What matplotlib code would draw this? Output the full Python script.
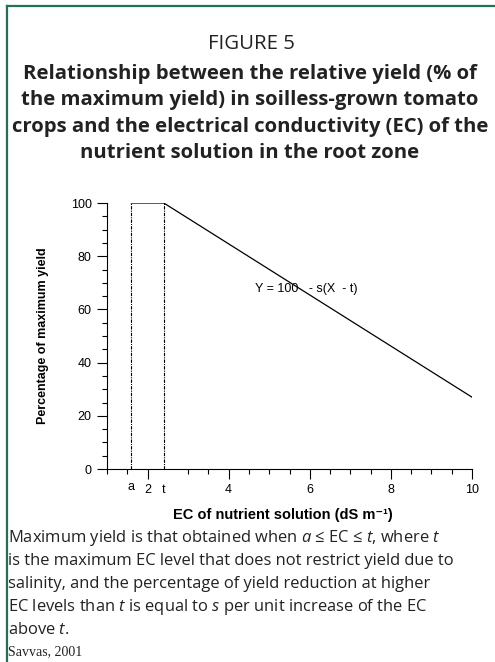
import matplotlib
matplotlib.use("Agg")
import matplotlib.pyplot as plt
from matplotlib.lines import Line2D

plt.rcParams['mathtext.fontset'] = 'custom'
plt.rcParams['mathtext.rm'] = 'Open Sans'
plt.rcParams['mathtext.it'] = 'Open Sans:italic'

# data
a_ec = 1.6
t_ec = 2.4
curve_x = [a_ec, t_ec, 10]
curve_y = [100, 100, 27]
x_major = [2, 4, 6, 8, 10]
y_major = [0, 20, 40, 60, 80, 100]

title_lines = [
    "Relationship between the relative yield (% of",
    "the maximum yield) in soilless-grown tomato",
    "crops and the electrical conductivity (EC) of the",
    "nutrient solution in the root zone",
]
caption_lines = [
    "Maximum yield is that obtained when $a$ ≤ EC ≤ $t$, where $t$",
    "is the maximum EC level that does not restrict yield due to",
    "salinity, and the percentage of yield reduction at higher",
    "EC levels than $t$ is equal to $s$ per unit increase of the EC",
    "above $t.$",
]

W, H = 495, 662
fig = plt.figure(figsize=(W / 100, H / 100), dpi=100)


def px(x, y):
    return x / W, 1 - y / H


# green frame (left + top)
green = '#23705a'
fig.add_artist(Line2D([6.5 / W, 6.5 / W], [0, 1 - 5.5 / H], color=green, lw=1.6))
fig.add_artist(Line2D([6.5 / W, 1], [1 - 5.5 / H, 1 - 5.5 / H], color=green, lw=1.6))

# titles
fig.text(*px(251, 44), "FIGURE 5", ha='center', va='center',
         fontsize=14.7, family='Open Sans', color='#222222')
for i, line in enumerate(title_lines):
    fig.text(*px(250, 74 + 26.5 * i), line, ha='center', va='center',
             fontsize=14.6, family='Open Sans', fontweight='bold', color='#222222')

# chart
ax = fig.add_axes([107 / W, 1 - 469 / H, (472 - 107) / W, (469 - 203) / H])
ax.plot(curve_x, curve_y, color='black', lw=0.9)
for v in (a_ec, t_ec):
    ax.plot([v, v], [0, 100], color='black', lw=0.8, ls=(0, (3, 1, 1, 1)))

ax.set_xlim(1, 10)
ax.set_ylim(0, 100)
for s in ('top', 'right'):
    ax.spines[s].set_visible(False)
for s in ('left', 'bottom'):
    ax.spines[s].set_linewidth(0.8)

ax.set_xticks(x_major)
ax.set_xticks([v / 2 for v in range(2, 21) if v / 2 not in x_major and v != 5], minor=True)
ax.set_yticks(y_major)
ax.set_yticks([v for v in range(0, 101, 5) if v not in y_major], minor=True)
ax.tick_params(which='major', length=7, width=0.8, labelsize=9, pad=4)
ax.tick_params(which='minor', length=3.5, width=0.8)
for lab in ax.get_xticklabels() + ax.get_yticklabels():
    lab.set_family('Liberation Sans')

ax.text(a_ec, -4.5, "a", ha='center', va='top', fontsize=9, family='Liberation Sans')
ax.text(t_ec, -5.5, "t", ha='center', va='top', fontsize=9, family='Liberation Sans')

ax.text(4.65, 67.7, "Y = 100   - s(X  - t)", ha='left', va='center',
        fontsize=9, family='Liberation Sans')

ax.set_ylabel("Percentage of maximum yield", fontsize=9, fontweight='bold',
              family=['Liberation Sans', 'DejaVu Sans'])
ax.yaxis.set_label_coords((43 - 107) / (472 - 107), 0.5)
ax.yaxis.label.set_va('center')
ax.set_xlabel("EC of nutrient solution (dS m⁻¹)", fontsize=10.5, fontweight='bold',
              family=['Liberation Sans', 'DejaVu Sans'])
ax.xaxis.set_label_coords((283 - 107) / (472 - 107), -(515 - 469) / (469 - 203))
ax.xaxis.label.set_va('center')

# caption
for i, line in enumerate(caption_lines):
    fig.text(*px(8, 538 + 23 * i), line, ha='left', va='center',
             fontsize=11.9, family=['Open Sans', 'DejaVu Sans'], color='#222222')
fig.text(*px(8, 652), "Savvas, 2001", ha='left', va='center',
         fontsize=10, family='Liberation Serif', color='#222222')

fig.savefig("out.png", dpi=100)
